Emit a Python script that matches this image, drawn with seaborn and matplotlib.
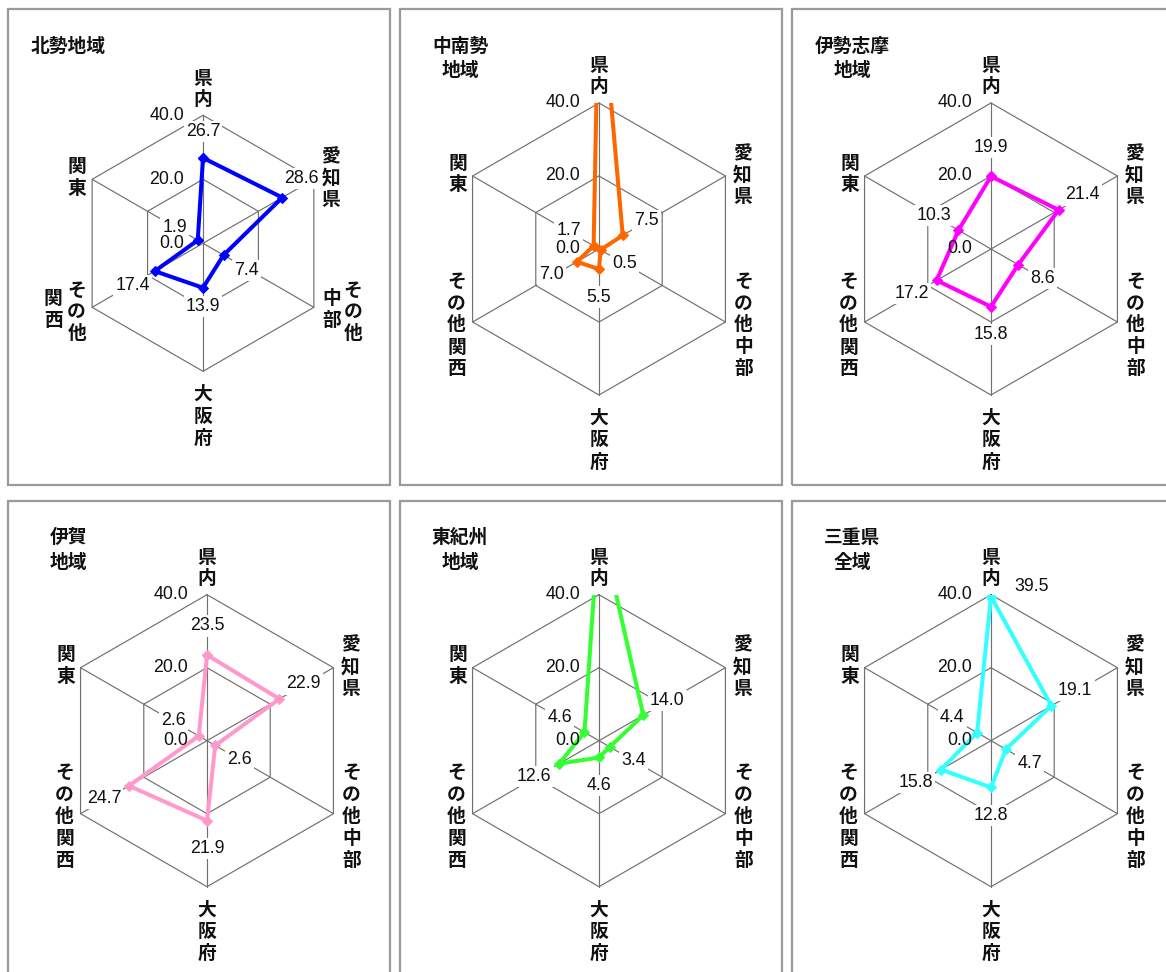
import numpy as np
import pandas as pd
import matplotlib
matplotlib.use("Agg")
import matplotlib.pyplot as plt
from matplotlib.patches import Rectangle
from matplotlib.transforms import offset_copy
import seaborn as sns

# ---- data -------------------------------------------------------------
categories = ["県内", "愛知県", "その他中部", "大阪府", "その他関西", "関東"]
region_titles = ["北勢地域", "中南勢\n地域", "伊勢志摩\n地域", "伊賀\n地域", "東紀州\n地域", "三重県\n全域"]
hokusei = [26.7, 28.6, 7.4, 13.9, 17.4, 1.9]
chunansei = [77.8, 7.5, 0.5, 5.5, 7.0, 1.7]
iseshima = [19.9, 21.4, 8.6, 15.8, 17.2, 10.3]
iga = [23.5, 22.9, 2.6, 21.9, 24.7, 2.6]
higashikishu = [60.8, 14.0, 3.4, 4.6, 12.6, 4.6]
mie_all = [39.5, 19.1, 4.7, 12.8, 15.8, 4.4]
grid_levels = [0, 20, 40]
line_colors = ["#0000FF", "#FF6600", "#FF00FF", "#FF99CC", "#33FF33", "#33FFFF"]

series = [hokusei, chunansei, iseshima, iga, higashikishu, mie_all]

# ---- styling ----------------------------------------------------------
sns.set_style("white")
plt.rcParams["font.family"] = ["Liberation Sans", "Noto Sans CJK JP", "DejaVu Sans"]
JP = ["Noto Sans CJK JP", "DejaVu Sans"]
NUM = ["Liberation Sans", "DejaVu Sans"]
NUM_SIZE = 12.8
JP_SIZE = 13.5

W, H = 1166, 972
fig = plt.figure(figsize=(W / 100, H / 100), dpi=100)

RMAX = grid_levels[-1]
angles = np.deg2rad(np.arange(len(categories)) * 60.0)
SIN, COS = np.sin(angles), np.cos(angles)
C30 = np.cos(np.deg2rad(30))

# panel frames (pixel units): left, top, width, height
frames = [(8, 9), (400, 9), (792, 9), (8, 500.7), (400, 500.7), (792, 500.7)]
FW, FH = 382, 476
# radar centre offsets inside each frame, and hexagon radius in pixels
geo = [(195, 234.3, 128)] + [(199, 240, 146)] * 5

# label offsets (pixels, y downwards) from each data point, per axis
val_off_small = [(0, -26), (19, -19), (23, 15), (0, 19), (-22, 14), (-23, -13)]
val_off = [(0, -29), (24, -15), (24, 14), (0, 28), (-25, 13), (-25, -15)]


def put(ax, x, y, dx, dy, s, **kw):
    tr = offset_copy(ax.transData, fig=fig, x=dx, y=-dy, units="dots")
    return ax.text(x, y, s, transform=tr, clip_on=False, **kw)


def vertical(ax, x, y, dx, dys, chars):
    for dy, ch in zip(dys, chars):
        put(ax, x, y, dx, dy, ch, ha="center", va="center", family=JP,
            fontsize=JP_SIZE, fontweight="bold", color="#111111", zorder=7)


for i, (vals, title, color) in enumerate(zip(series, region_titles, line_colors)):
    fl, ft = frames[i]
    ox, oy, R = geo[i]
    cx, cy = fl + ox, ft + oy
    offsets = val_off_small if i == 0 else val_off

    # frame border
    fig.add_artist(Rectangle((fl / W, 1 - (ft + FH) / H), FW / W, FH / H,
                             transform=fig.transFigure, fill=False,
                             ec="#9a9a9a", lw=1.6))

    ax = fig.add_axes([(cx - R * C30) / W, 1 - (cy + R) / H,
                       2 * R * C30 / W, 2 * R / H])
    ax.set_xlim(-RMAX * C30, RMAX * C30)
    ax.set_ylim(-RMAX, RMAX)
    ax.axis("off")

    # hexagonal grid and spokes
    for lvl in grid_levels[1:]:
        hx = np.append(lvl * SIN, lvl * SIN[0])
        hy = np.append(lvl * COS, lvl * COS[0])
        ax.plot(hx, hy, color="#707070", lw=0.85, zorder=1, clip_on=False)
    for s_, c_ in zip(SIN, COS):
        ax.plot([0, RMAX * s_], [0, RMAX * c_], color="#707070", lw=0.85,
                zorder=1, clip_on=False)

    # data polygon
    v = np.array(vals)
    df = pd.DataFrame({"x": np.append(v * SIN, v[0] * SIN[0]),
                       "y": np.append(v * COS, v[0] * COS[0])})
    sns.lineplot(data=df, x="x", y="y", sort=False, estimator=None, ax=ax,
                 color=color, lw=2.9, marker="D", markersize=5.5,
                 markeredgecolor=color, zorder=3)
    ax.set_xlabel("")
    ax.set_ylabel("")

    # value labels
    for k, val in enumerate(vals):
        if val > RMAX:
            continue
        dx, dy = offsets[k]
        if k == 0 and val > RMAX - 2:
            dx, dy = 41, -10
        put(ax, val * SIN[k], val * COS[k], dx, dy, f"{val:.1f}",
            ha="center", va="center", family=NUM, fontsize=NUM_SIZE,
            color="#111111", zorder=5,
            bbox=dict(boxstyle="square,pad=0.12", fc="white", ec="none"))

    # radial scale labels
    for lvl in grid_levels:
        put(ax, 0, lvl, -19, 0, f"{lvl:.1f}", ha="right", va="center",
            family=NUM, fontsize=NUM_SIZE, color="#111111", zorder=6)

    # category labels at the outer vertices
    vx, vy = RMAX * SIN, RMAX * COS
    vertical(ax, vx[0], vy[0], 0, [-37, -16], categories[0])
    vertical(ax, vx[1], vy[1], 17, [-22.5, -1, 20.5], categories[1])
    vertical(ax, vx[3], vy[3], 0, [23, 45, 67], categories[3])
    vertical(ax, vx[5], vy[5], -15, [-13, 9], categories[5])
    if i == 0:
        vertical(ax, vx[2], vy[2], 39, [-17, 4, 26], categories[2][:3])
        vertical(ax, vx[2], vy[2], 18, [-9, 13], categories[2][3:])
        vertical(ax, vx[4], vy[4], -15.5, [-17, 4, 26], categories[4][:3])
        vertical(ax, vx[4], vy[4], -39, [-9, 13], categories[4][3:])
    else:
        dys = [-41, -19, 3, 25, 47]
        vertical(ax, vx[2], vy[2], 18, dys, categories[2])
        vertical(ax, vx[4], vy[4], -16, dys, categories[4])

    # panel title
    for j, line in enumerate(title.split("\n")):
        fig.text((fl + 60) / W, 1 - (ft + 37 + 25 * j) / H, line,
                 ha="center", va="center", family=JP, fontsize=JP_SIZE,
                 fontweight="bold", color="#111111")

fig.savefig("out.png", dpi=100, facecolor="white")
